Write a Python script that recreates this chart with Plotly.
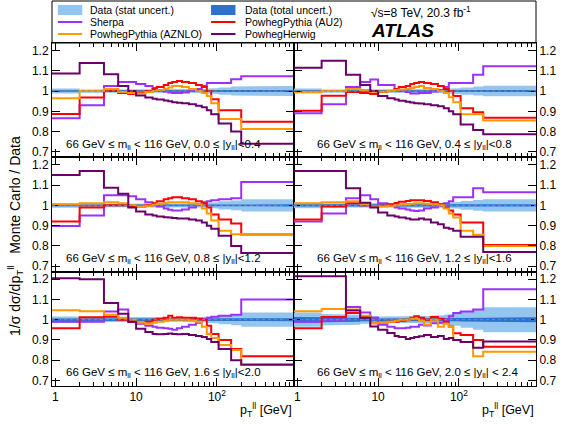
import numpy as np
import plotly.graph_objects as go
from plotly.subplots import make_subplots

# ---------------- data ----------------
edges = [0, 2, 4, 6, 8, 10, 13, 16, 18, 22, 25, 28, 32, 37, 45, 55, 65, 75, 85, 105, 150, 200, 900]

rap_labels = ["0.0 ≤ |y<sub>ll</sub>|<0.4", "0.4 ≤ |y<sub>ll</sub>|<0.8",
              "0.8 ≤ |y<sub>ll</sub>|<1.2", "1.2 ≤ |y<sub>ll</sub>|<1.6",
              "1.6 ≤ |y<sub>ll</sub>|<2.0", "2.0 ≤ |y<sub>ll</sub>| < 2.4"]

herwig = [
    [1.087, 1.138, 1.083, 1.025, 1.0, 0.978, 0.968, 0.962, 0.958, 0.953, 0.95, 0.945, 0.942, 0.94, 0.935, 0.928, 0.92, 0.905, 0.885, 0.84, 0.80, 0.74],
    [1.115, 1.15, 1.08, 1.03, 1.0, 0.975, 0.965, 0.958, 0.952, 0.947, 0.943, 0.94, 0.938, 0.935, 0.93, 0.925, 0.915, 0.9, 0.885, 0.835, 0.808, 0.787],
    [1.15, 1.17, 1.087, 1.057, 0.99, 0.97, 0.955, 0.95, 0.945, 0.942, 0.94, 0.938, 0.935, 0.935, 0.93, 0.925, 0.915, 0.9, 0.885, 0.85, 0.80, 0.765],
    [1.17, 1.17, 1.085, 1.013, 0.99, 0.965, 0.95, 0.945, 0.94, 0.935, 0.93, 0.93, 0.935, 0.93, 0.915, 0.907, 0.89, 0.885, 0.875, 0.845, 0.845, 0.77],
    [1.205, 1.2, 1.083, 1.03, 0.99, 0.955, 0.94, 0.93, 0.928, 0.93, 0.932, 0.93, 0.928, 0.93, 0.925, 0.92, 0.915, 0.905, 0.89, 0.855, 0.80, 0.778],
    [1.215, 1.215, 1.045, 1.01, 0.967, 0.95, 0.935, 0.92, 0.915, 0.905, 0.91, 0.915, 0.918, 0.925, 0.915, 0.92, 0.905, 0.91, 0.9, 0.89, 0.862, 0.893],
]
sherpa = [
    [0.866, 0.93, 1.025, 1.045, 1.045, 1.035, 1.025, 1.015, 1.005, 0.998, 0.993, 0.99, 0.99, 0.993, 1.0, 1.01, 1.025, 1.04, 1.04, 1.04, 1.058, 1.073],
    [0.89, 0.935, 1.02, 1.044, 1.057, 1.03, 1.03, 1.01, 1.0, 0.995, 0.988, 0.988, 0.99, 0.99, 0.998, 1.005, 1.02, 1.04, 1.04, 1.04, 1.08, 1.122],
    [0.898, 0.95, 1.05, 1.05, 1.045, 1.03, 1.015, 1.005, 0.995, 0.985, 0.978, 0.975, 0.975, 0.98, 0.99, 1.005, 1.015, 1.02, 1.025, 1.03, 1.035, 1.115],
    [0.92, 0.96, 1.035, 1.05, 1.03, 1.01, 1.0, 0.99, 0.985, 0.98, 0.975, 0.972, 0.975, 0.985, 0.99, 1.0, 1.01, 1.02, 1.04, 1.04, 1.085, 1.065],
    [0.99, 0.99, 1.04, 1.05, 0.995, 0.98, 0.97, 0.965, 0.96, 0.958, 0.955, 0.95, 0.958, 0.965, 0.975, 0.985, 1.0, 1.01, 1.015, 1.02, 1.025, 1.1],
    [0.99, 1.0, 1.063, 1.035, 1.01, 0.975, 0.965, 0.958, 0.958, 0.96, 0.965, 0.965, 0.975, 0.972, 0.983, 0.985, 1.0, 1.017, 1.033, 1.04, 1.05, 1.15],
]
pythia_au2 = [
    [0.887, 0.968, 1.0, 0.99, 0.985, 0.99, 1.0, 1.01, 1.02, 1.03, 1.04, 1.045, 1.05, 1.045, 1.04, 1.03, 1.02, 1.0, 0.96, 0.905, 0.905, 0.848],
    [0.903, 0.977, 0.995, 0.99, 0.985, 0.995, 1.0, 1.01, 1.02, 1.025, 1.035, 1.04, 1.045, 1.04, 1.035, 1.025, 1.01, 1.0, 0.975, 0.915, 0.895, 0.868],
    [0.92, 0.99, 1.0, 1.0, 0.995, 0.995, 1.0, 1.01, 1.02, 1.03, 1.035, 1.04, 1.04, 1.035, 1.03, 1.02, 1.01, 0.99, 0.955, 0.93, 0.91, 0.856],
    [0.93, 0.995, 1.01, 1.0, 0.995, 0.998, 1.005, 1.012, 1.018, 1.022, 1.025, 1.025, 1.025, 1.022, 1.015, 1.005, 0.99, 0.975, 0.955, 0.915, 0.915, 0.805],
    [0.958, 1.012, 1.015, 1.0, 0.99, 0.985, 0.99, 1.0, 1.005, 1.01, 1.02, 1.01, 1.012, 1.01, 1.01, 1.005, 1.0, 0.97, 0.93, 0.9, 0.855, 0.82],
    [0.958, 1.013, 1.033, 1.017, 0.983, 0.985, 0.99, 0.99, 0.995, 1.0, 1.01, 1.017, 1.01, 1.0, 1.013, 1.005, 0.99, 0.967, 0.933, 0.925, 0.9, 0.867],
]
pythia_aznlo = [
    [0.965, 1.0, 1.01, 0.995, 0.99, 0.988, 0.995, 1.0, 1.005, 1.01, 1.018, 1.025, 1.025, 1.02, 1.01, 1.0, 0.99, 0.975, 0.94, 0.862, 0.862, 0.813],
    [0.995, 1.0, 1.01, 1.005, 0.997, 0.997, 1.0, 1.005, 1.008, 1.01, 1.015, 1.02, 1.025, 1.015, 1.01, 1.0, 0.99, 0.97, 0.945, 0.885, 0.885, 0.855],
    [1.005, 1.01, 1.015, 1.01, 1.0, 0.995, 0.998, 1.003, 1.008, 1.012, 1.015, 1.015, 1.015, 1.015, 1.01, 1.005, 0.985, 0.96, 0.925, 0.875, 0.857, 0.857],
    [1.01, 1.015, 1.02, 1.005, 0.995, 0.995, 0.998, 1.0, 1.003, 1.005, 1.008, 1.01, 1.01, 1.008, 1.005, 1.0, 0.985, 0.96, 0.94, 0.875, 0.855, 0.80],
    [1.047, 1.042, 1.025, 1.01, 1.0, 0.985, 0.98, 0.985, 0.99, 0.995, 1.0, 1.0, 1.0, 1.0, 0.995, 0.99, 0.965, 0.93, 0.91, 0.875, 0.85, 0.78],
    [1.042, 1.053, 1.05, 1.02, 0.983, 0.985, 0.99, 0.995, 1.0, 1.0, 1.005, 1.003, 0.995, 0.975, 1.0, 0.965, 0.98, 0.965, 0.9, 0.89, 0.82, 0.842],
]
# data uncertainty half-widths (relative)
stat_err = [
    [0.012, 0.008, 0.007, 0.007, 0.007, 0.007, 0.007, 0.007, 0.007, 0.007, 0.007, 0.007, 0.007, 0.007, 0.008, 0.009, 0.01, 0.012, 0.014, 0.018, 0.022, 0.025],
    [0.012, 0.008, 0.007, 0.007, 0.007, 0.007, 0.007, 0.007, 0.007, 0.007, 0.007, 0.007, 0.007, 0.007, 0.008, 0.009, 0.01, 0.012, 0.014, 0.018, 0.022, 0.026],
    [0.012, 0.009, 0.008, 0.008, 0.008, 0.008, 0.008, 0.008, 0.008, 0.008, 0.008, 0.008, 0.008, 0.008, 0.009, 0.01, 0.011, 0.013, 0.015, 0.02, 0.024, 0.03],
    [0.014, 0.01, 0.009, 0.009, 0.009, 0.009, 0.009, 0.009, 0.009, 0.009, 0.009, 0.009, 0.009, 0.009, 0.01, 0.011, 0.012, 0.014, 0.017, 0.022, 0.026, 0.03],
    [0.016, 0.012, 0.01, 0.01, 0.01, 0.01, 0.01, 0.01, 0.01, 0.01, 0.01, 0.01, 0.01, 0.011, 0.012, 0.013, 0.014, 0.016, 0.018, 0.022, 0.027, 0.035],
    [0.035, 0.028, 0.025, 0.02, 0.018, 0.016, 0.016, 0.016, 0.016, 0.016, 0.016, 0.016, 0.017, 0.018, 0.02, 0.022, 0.025, 0.028, 0.03, 0.04, 0.05, 0.062],
]
total_err = [
    [0.004, 0.003, 0.003, 0.003, 0.003, 0.003, 0.003, 0.003, 0.003, 0.003, 0.003, 0.003, 0.003, 0.003, 0.003, 0.003, 0.003, 0.003, 0.003, 0.004, 0.004, 0.005],
    [0.004, 0.003, 0.003, 0.003, 0.003, 0.003, 0.003, 0.003, 0.003, 0.003, 0.003, 0.003, 0.003, 0.003, 0.003, 0.003, 0.003, 0.003, 0.003, 0.004, 0.004, 0.005],
    [0.004, 0.003, 0.003, 0.003, 0.003, 0.003, 0.003, 0.003, 0.003, 0.003, 0.003, 0.003, 0.003, 0.003, 0.003, 0.003, 0.003, 0.003, 0.003, 0.004, 0.004, 0.005],
    [0.005, 0.004, 0.003, 0.003, 0.003, 0.003, 0.003, 0.003, 0.003, 0.003, 0.003, 0.003, 0.003, 0.003, 0.003, 0.003, 0.003, 0.003, 0.004, 0.004, 0.005, 0.006],
    [0.006, 0.005, 0.004, 0.004, 0.004, 0.004, 0.004, 0.004, 0.004, 0.004, 0.004, 0.004, 0.004, 0.004, 0.004, 0.004, 0.004, 0.004, 0.004, 0.005, 0.006, 0.007],
    [0.014, 0.012, 0.01, 0.008, 0.006, 0.005, 0.005, 0.005, 0.005, 0.005, 0.005, 0.005, 0.005, 0.005, 0.005, 0.006, 0.006, 0.007, 0.008, 0.009, 0.01, 0.012],
]

y_ticks = [0.7, 0.8, 0.9, 1.0, 1.1, 1.2]
y_ticktext = ["0.7", "0.8", "0.9", "1", "1.1", "1.2"]
x_ticks = [1, 10, 100]
x_ticktext = ["1", "10", "10<sup>2</sup>"]

# ---------------- style ----------------
C_SHERPA = "#9b30ff"
C_AU2 = "#ff0000"
C_AZNLO = "#ff9900"
C_HERWIG = "#6a006a"
C_STAT = "#92c6f0"
C_TOTAL = "#2a72cf"
FONT = "Liberation Sans, Arial, sans-serif"

W, H = 568, 424
ML, MR, MT, MB = 52, 20, 43, 38
X_MIN, X_MAX = 0.91, 900.0
Y_RANGE = [0.673, 1.237]

fig = make_subplots(rows=3, cols=2, horizontal_spacing=0, vertical_spacing=0)

edges_arr = np.clip(np.array(edges, dtype=float), X_MIN, None)
lo, hi = edges_arr[:-1], edges_arr[1:]


def band_poly(err):
    err = np.array(err)
    xs_u = np.ravel(np.column_stack([lo, hi]))
    ys_u = np.ravel(np.column_stack([1 + err, 1 + err]))
    ys_l = np.ravel(np.column_stack([1 - err, 1 - err]))
    return np.concatenate([xs_u, xs_u[::-1]]), np.concatenate([ys_u, ys_l[::-1]])


for p in range(6):
    r, c = p // 2 + 1, p % 2 + 1
    bx, by = band_poly(stat_err[p])
    fig.add_trace(go.Scatter(x=bx, y=by, fill="toself", fillcolor=C_STAT, line=dict(width=0),
                             mode="lines", showlegend=False, hoverinfo="skip"), row=r, col=c)
    bx, by = band_poly(total_err[p])
    fig.add_trace(go.Scatter(x=bx, y=by, fill="toself", fillcolor=C_TOTAL, line=dict(width=0),
                             mode="lines", showlegend=False, hoverinfo="skip"), row=r, col=c)
    fig.add_hline(y=1, line=dict(color="#8a8a8a", width=1, dash="dot"), row=r, col=c)
    for vals, col in [(sherpa[p], C_SHERPA), (pythia_au2[p], C_AU2),
                      (pythia_aznlo[p], C_AZNLO), (herwig[p], C_HERWIG)]:
        fig.add_trace(go.Scatter(x=edges_arr, y=list(vals) + [vals[-1]], mode="lines",
                                 line=dict(color=col, width=2, shape="hv"),
                                 showlegend=False), row=r, col=c)
    xref = "x domain" if p == 0 else f"x{p+1} domain"
    yref = "y" if p == 0 else f"y{p+1}"
    fig.add_annotation(x=0.05 if c == 1 else 0.088, y=0.735, xref=xref, yref=yref,
                       xanchor="left", yanchor="middle", showarrow=False,
                       text="66 GeV ≤ m<sub>ll</sub> < 116 GeV, " + rap_labels[p],
                       font=dict(size=11.5, color="black", family=FONT))

minor_vals = [v * d for d in (1, 10, 100) for v in range(2, 10) if v * d <= 900]
for p in range(6):
    r, c = p // 2 + 1, p % 2 + 1
    fig.update_xaxes(type="log", range=[np.log10(X_MIN), np.log10(X_MAX)],
                     tickvals=x_ticks, ticktext=x_ticktext, ticks="inside", ticklen=8,
                     tickcolor="black", showline=True, linecolor="black", linewidth=1,
                     mirror="allticks", showgrid=False, zeroline=False,
                     showticklabels=(r == 3), tickfont=dict(size=12, family=FONT, color="black"),
                     minor=dict(ticks="inside", ticklen=4, tickcolor="black", tickvals=minor_vals,
                                showgrid=False),
                     row=r, col=c)
    fig.update_yaxes(range=Y_RANGE, tickvals=y_ticks, ticktext=y_ticktext, ticks="inside",
                     ticklen=8, tickcolor="black", showline=True, linecolor="black", linewidth=1,
                     mirror="allticks", showgrid=False, zeroline=False,
                     side="left" if c == 1 else "right",
                     tickfont=dict(size=12, family=FONT, color="black"), row=r, col=c)


def px(x):
    return (x - ML) / (W - ML - MR)


def py(y):
    return (H - MB - y) / (H - MT - MB)


shapes = [
    dict(type="rect", xref="paper", yref="paper", x0=px(52), x1=px(548), y0=py(43), y1=py(1),
         line=dict(color="black", width=1), fillcolor="rgba(0,0,0,0)"),
    dict(type="rect", xref="paper", yref="paper", x0=px(58), x1=px(83), y0=py(15), y1=py(5),
         line=dict(width=0), fillcolor=C_STAT),
    dict(type="rect", xref="paper", yref="paper", x0=px(215), x1=px(240), y0=py(15), y1=py(5),
         line=dict(width=0), fillcolor=C_TOTAL),
]
for (x0, yy, col) in [(58, 22, C_SHERPA), (58, 34, C_AZNLO), (215, 22, C_AU2), (215, 34, C_HERWIG)]:
    shapes.append(dict(type="line", xref="paper", yref="paper", x0=px(x0), x1=px(x0 + 25),
                       y0=py(yy), y1=py(yy), line=dict(color=col, width=2)))
for s in shapes:
    fig.add_shape(**s)

leg_texts = [(89, 10, "Data (stat uncert.)"), (89, 22, "Sherpa"), (89, 34, "PowhegPythia (AZNLO)"),
             (248, 10, "Data (total uncert.)"), (248, 22, "PowhegPythia (AU2)"), (248, 34, "PowhegHerwig")]
for (x0, yy, t) in leg_texts:
    fig.add_annotation(x=px(x0), y=py(yy), xref="paper", yref="paper", xanchor="left",
                       yanchor="middle", showarrow=False, text=t,
                       font=dict(size=10.5, color="black", family=FONT))

fig.add_annotation(x=px(377), y=py(12), xref="paper", yref="paper", xanchor="left", yanchor="middle",
                   showarrow=False, text="√s=8 TeV, 20.3 fb<sup>-1</sup>",
                   font=dict(size=12, color="black", family=FONT))
fig.add_annotation(x=px(377), y=py(31), xref="paper", yref="paper", xanchor="left", yanchor="middle",
                   showarrow=False, text="<b><i>ATLAS</i></b>",
                   font=dict(size=19, color="black", family=FONT))

fig.add_annotation(x=px(14), y=py(236), xref="paper", yref="paper", textangle=-90,
                   showarrow=False, xanchor="center", yanchor="middle",
                   text="1/σ dσ/dp<sub>T</sub><sup>ll</sup>   Monte Carlo / Data",
                   font=dict(size=14, color="black", family=FONT))
for xr in (300, 548):
    fig.add_annotation(x=px(xr), y=py(410), xref="paper", yref="paper", xanchor="right",
                       yanchor="middle", showarrow=False,
                       text="p<sub>T</sub><sup>ll</sup> [GeV]",
                       font=dict(size=12.5, color="black", family=FONT))

fig.update_layout(width=W, height=H, autosize=False,
                  margin=dict(l=ML, r=MR, t=MT, b=MB, pad=0),
                  paper_bgcolor="white", plot_bgcolor="white", showlegend=False,
                  font=dict(family=FONT, color="black"))

fig.write_html("out.html", config={"displayModeBar": False},
               post_script="document.body.style.margin='0';")
